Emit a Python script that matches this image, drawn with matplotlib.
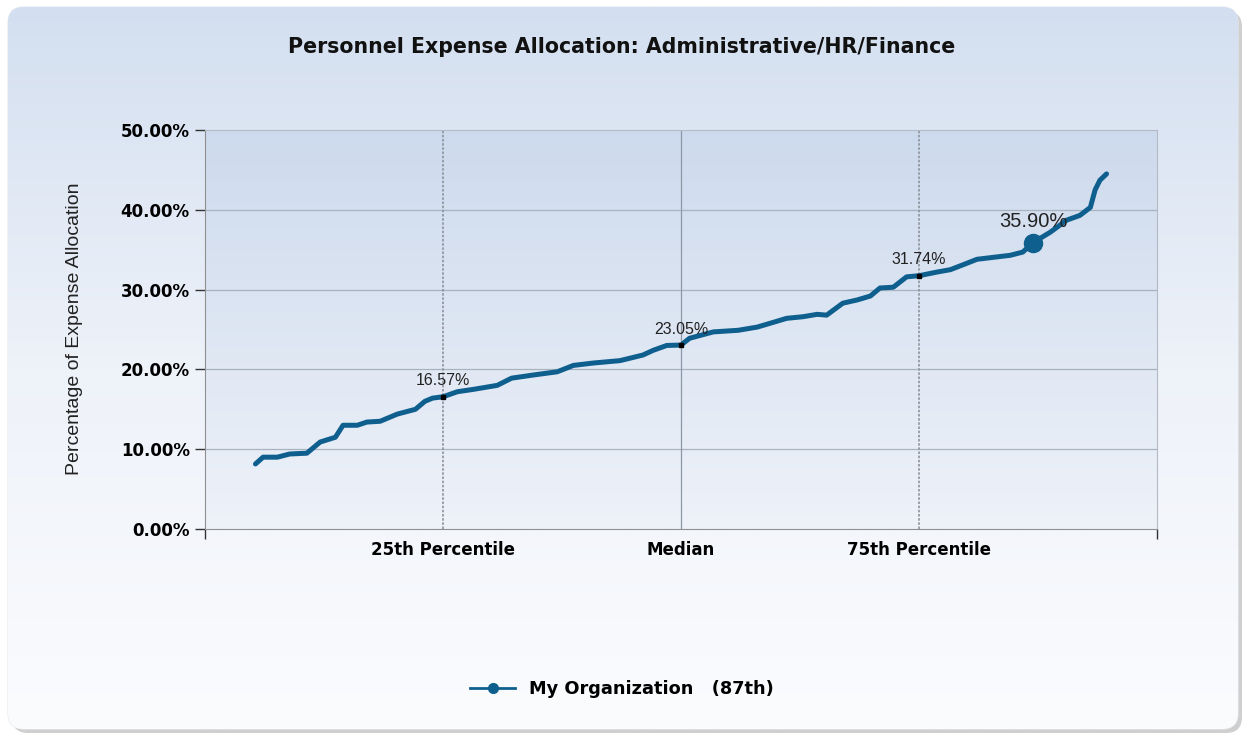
import numpy as np
import matplotlib.pyplot as plt
from matplotlib.patches import FancyBboxPatch
from matplotlib.lines import Line2D
from matplotlib.colors import LinearSegmentedColormap

# 数据：各机构按百分位排序后的费用占比（%）
percentile = [5.3, 6.1, 7.6, 8.9, 10.7, 12.1, 13.7, 14.5, 16.0, 17.0, 18.4, 20.2,
              22.1, 23.1, 23.9, 25.0, 26.5, 28.2, 30.7, 32.2, 34.5, 37.0, 38.7,
              40.8, 43.6, 46.0, 47.1, 48.5, 50.0, 50.9, 53.4, 56.0, 58.0, 59.7,
              61.1, 62.8, 64.3, 65.3, 67.0, 68.5, 69.9, 70.9, 72.3, 73.7, 75.0,
              76.9, 78.3, 79.6, 81.1, 83.2, 84.6, 85.9, 87.0, 88.8, 90.5, 91.9,
              93.0, 93.5, 94.0, 94.7]
allocation = [8.15, 9.0, 9.0, 9.4, 9.5, 10.9, 11.5, 13.0, 13.0, 13.4, 13.5, 14.4,
              15.0, 16.0, 16.4, 16.57, 17.2, 17.5, 18.0, 18.9, 19.3, 19.7, 20.5,
              20.8, 21.1, 21.8, 22.4, 23.0, 23.05, 23.9, 24.7, 24.9, 25.3, 25.9,
              26.4, 26.6, 26.9, 26.8, 28.3, 28.7, 29.2, 30.2, 30.3, 31.6, 31.74,
              32.2, 32.5, 33.1, 33.8, 34.1, 34.3, 34.7, 35.9, 37.2, 38.7, 39.3,
              40.3, 42.5, 43.7, 44.5]

stat_pos = [25, 50, 75]
stat_val = [16.57, 23.05, 31.74]
my_pos, my_val = 87, 35.90

y_ticks = [0, 10, 20, 30, 40, 50]
x_ticks = [0, 25, 50, 75, 100]
x_labels = ['', '25th Percentile', 'Median', '75th Percentile', '']

line_color = '#0f5f8e'
W, H = 1244, 735

fig = plt.figure(figsize=(W / 100, H / 100), dpi=100)
fig.patch.set_facecolor('white')

# 背景面板：圆角 + 渐变 + 阴影
bg = fig.add_axes([0, 0, 1, 1])
bg.set_xlim(0, W)
bg.set_ylim(0, H)
bg.axis('off')
shadow = FancyBboxPatch((12, 2), 1230, 722, boxstyle='round,pad=0,rounding_size=16',
                        facecolor='#c4c4c4', edgecolor='none', alpha=0.8)
bg.add_patch(shadow)
panel = FancyBboxPatch((8, 6), 1230, 722, boxstyle='round,pad=0,rounding_size=16',
                       facecolor='none', edgecolor='#e6e9ee', linewidth=0.8)
bg.add_patch(panel)
cmap_bg = LinearSegmentedColormap.from_list('bg', ['#fbfcfe', '#eef2f9', '#d3dff0'])
grad = np.linspace(0, 1, 256).reshape(-1, 1)
im = bg.imshow(grad, extent=[8, 1238, 6, 728], origin='lower', aspect='auto',
               cmap=cmap_bg, zorder=1)
im.set_clip_path(panel)

fig.text(0.5, 1 - 47 / H, 'Personnel Expense Allocation: Administrative/HR/Finance',
         ha='center', va='center', fontsize=14.8, fontweight='bold', color='#111111')

ax = fig.add_axes([205 / W, 1 - 529 / H, (1157 - 205) / W, (529 - 130) / H])
cmap_ax = LinearSegmentedColormap.from_list('ax', ['#eef2f9', '#cddaed'])
ax.imshow(grad, extent=[0, 100, 0, 50], origin='lower', aspect='auto', cmap=cmap_ax, zorder=0)
ax.patch.set_visible(False)

for y in [10, 20, 30, 40]:
    ax.axhline(y, color='#a9b2bf', lw=0.9, zorder=1)
ax.axvline(25, color='#8c939c', lw=1.2, ls=(0, (1.5, 1)), zorder=1)
ax.axvline(75, color='#8c939c', lw=1.2, ls=(0, (1.5, 1)), zorder=1)
ax.axvline(50, color='#8d98a6', lw=0.9, zorder=1)

ax.plot(percentile, allocation, color=line_color, lw=3.6, solid_joinstyle='round',
        solid_capstyle='round', zorder=3)
ax.plot(stat_pos, stat_val, ls='none', marker='s', ms=3.5, color='black', zorder=4)
for p, v in zip(stat_pos, stat_val):
    ax.annotate(f'{v:.2f}%', (p, v), xytext=(0, 6), textcoords='offset points',
                ha='center', va='bottom', fontsize=11.5, family='Liberation Sans',
                color='#222222', zorder=5)
ax.plot([my_pos], [my_val], marker='o', ms=13, color=line_color, zorder=5)
ax.annotate(f'{my_val:.2f}%', (my_pos, my_val), xytext=(0, 8), textcoords='offset points',
            ha='center', va='bottom', fontsize=14.5, family='Liberation Sans',
            color='#222222', zorder=5)

ax.set_xlim(0, 100)
ax.set_ylim(0, 50)
ax.set_yticks(y_ticks)
ax.set_yticklabels([f'{v:.2f}%' for v in y_ticks], fontsize=12, fontweight='bold')
ax.set_xticks(x_ticks)
ax.set_xticklabels(x_labels, fontsize=12, fontweight='bold')
ax.tick_params(axis='both', direction='out', length=7, width=1, color='#333333', pad=4)
ax.tick_params(axis='x', pad=1.5)
for i, t in enumerate(ax.xaxis.get_major_ticks()):
    if i in (1, 2, 3):
        t.tick1line.set_visible(False)
for s in ['left', 'bottom']:
    ax.spines[s].set_color('#8f8f8f')
for s in ['top', 'right']:
    ax.spines[s].set_color('#b3bac6')

fig.text(75 / W, 1 - 329 / H, 'Percentage of Expense Allocation', rotation=90,
         ha='center', va='center', fontsize=14, family='Liberation Sans', color='#222222')

handle = Line2D([], [], color=line_color, lw=2, marker='o', ms=7)
fig.legend([handle], ['My Organization   (87th)'], loc='center',
           bbox_to_anchor=(0.5, 1 - 689 / H), frameon=False, handlelength=2.5,
           prop={'weight': 'bold', 'size': 12.8})

fig.savefig('out.png', dpi=100)
